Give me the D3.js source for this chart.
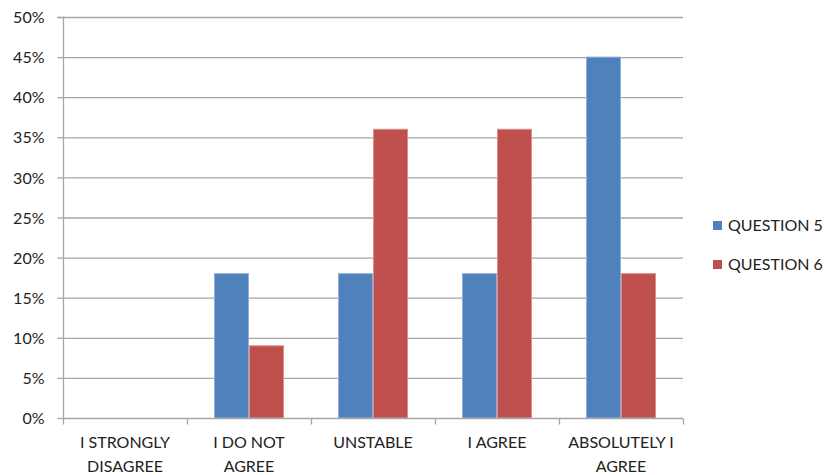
<!DOCTYPE html>
<html><head><meta charset="utf-8">
<script src="https://cdn.jsdelivr.net/npm/d3@7"></script>
<style>body{margin:0;background:#fff}svg{display:block}text{font-family:Lato,"Open Sans",sans-serif;fill:#222}</style>
</head><body>
<script>
const categories = [["I STRONGLY","DISAGREE"],["I DO NOT","AGREE"],["UNSTABLE"],["I AGREE"],["ABSOLUTELY I","AGREE"]];
const seriesNames = ["QUESTION 5","QUESTION 6"];
const question5 = [0,18,18,18,45];
const question6 = [0,9,36,36,18];
const yTicks = [0,5,10,15,20,25,30,35,40,45,50];
const colors = ["#4F81BD","#C0504D"];
const strokes = ["#8FB0DA","#DA8E8C"];

const W=826,H=475;
const svg=d3.select("body").append("svg").attr("width",W).attr("height",H);
const L=63,R=683,T=17,B=418;
const x=d3.scaleBand().domain(d3.range(categories.length)).range([L,R]).paddingInner(0).paddingOuter(0);
const y=d3.scaleLinear().domain([0,50]).range([B,T]);
const bw=35;

// gridlines
svg.append("g").selectAll("line").data(yTicks.filter(d=>d>0)).join("line")
 .attr("x1",L).attr("x2",R).attr("y1",d=>y(d)+0.5).attr("y2",d=>y(d)+0.5)
 .attr("stroke","#A6A6A6").attr("stroke-width",1.3);

// y axis
const ya=svg.append("g").attr("transform",`translate(${L+0.5},0)`)
 .call(d3.axisLeft(y).tickValues(yTicks).tickFormat(d=>d+"%").tickSize(6).tickPadding(13));
ya.select(".domain").attr("stroke","#A6A6A6").attr("stroke-width",1.3).attr("d",`M-6,${T+0.5}H0V${B+0.5}`);
ya.selectAll(".tick line").attr("stroke","#A6A6A6").attr("stroke-width",1.3);
ya.selectAll(".tick text").attr("font-size",16).attr("fill","#222").attr("font-family","Lato,sans-serif").attr("dy","0.35em");

// bars
const data=[question5,question6];
data.forEach((vals,s)=>{
 svg.append("g").selectAll("rect").data(vals).join("rect")
  .attr("x",(d,i)=>x(i)+x.bandwidth()/2-bw+s*bw+0.5)
  .attr("width",bw-1)
  .attr("y",d=>y(d))
  .attr("height",d=>Math.max(0,B-y(d)))
  .attr("fill",colors[s]).attr("stroke",d=>d>0?strokes[s]:"none").attr("stroke-width",1);
});

// x axis
const xa=svg.append("g").attr("transform",`translate(0,${B+0.5})`);
xa.append("line").attr("x1",L).attr("x2",R).attr("stroke","#A6A6A6").attr("stroke-width",1.3);
xa.selectAll("line.t").data(d3.range(categories.length+1)).join("line").attr("class","t")
 .attr("x1",i=>Math.round(L+i*x.bandwidth())+0.5).attr("x2",i=>Math.round(L+i*x.bandwidth())+0.5)
 .attr("y1",0).attr("y2",6).attr("stroke","#A6A6A6").attr("stroke-width",1.3);
categories.forEach((lines,i)=>{
 const t=xa.append("text").attr("text-anchor","middle").attr("font-size",16)
  .attr("x",x(i)+x.bandwidth()/2);
 lines.forEach((ln,j)=>t.append("tspan").attr("x",x(i)+x.bandwidth()/2).attr("y",29+j*24).text(ln));
});

// legend
const lg=svg.append("g");
seriesNames.forEach((n,i)=>{
 lg.append("rect").attr("x",713).attr("y",221+i*39).attr("width",9).attr("height",9).attr("fill",colors[i]);
 lg.append("text").attr("x",728).attr("y",231+i*39).attr("font-size",16).text(n);
});
</script>
</body></html>
